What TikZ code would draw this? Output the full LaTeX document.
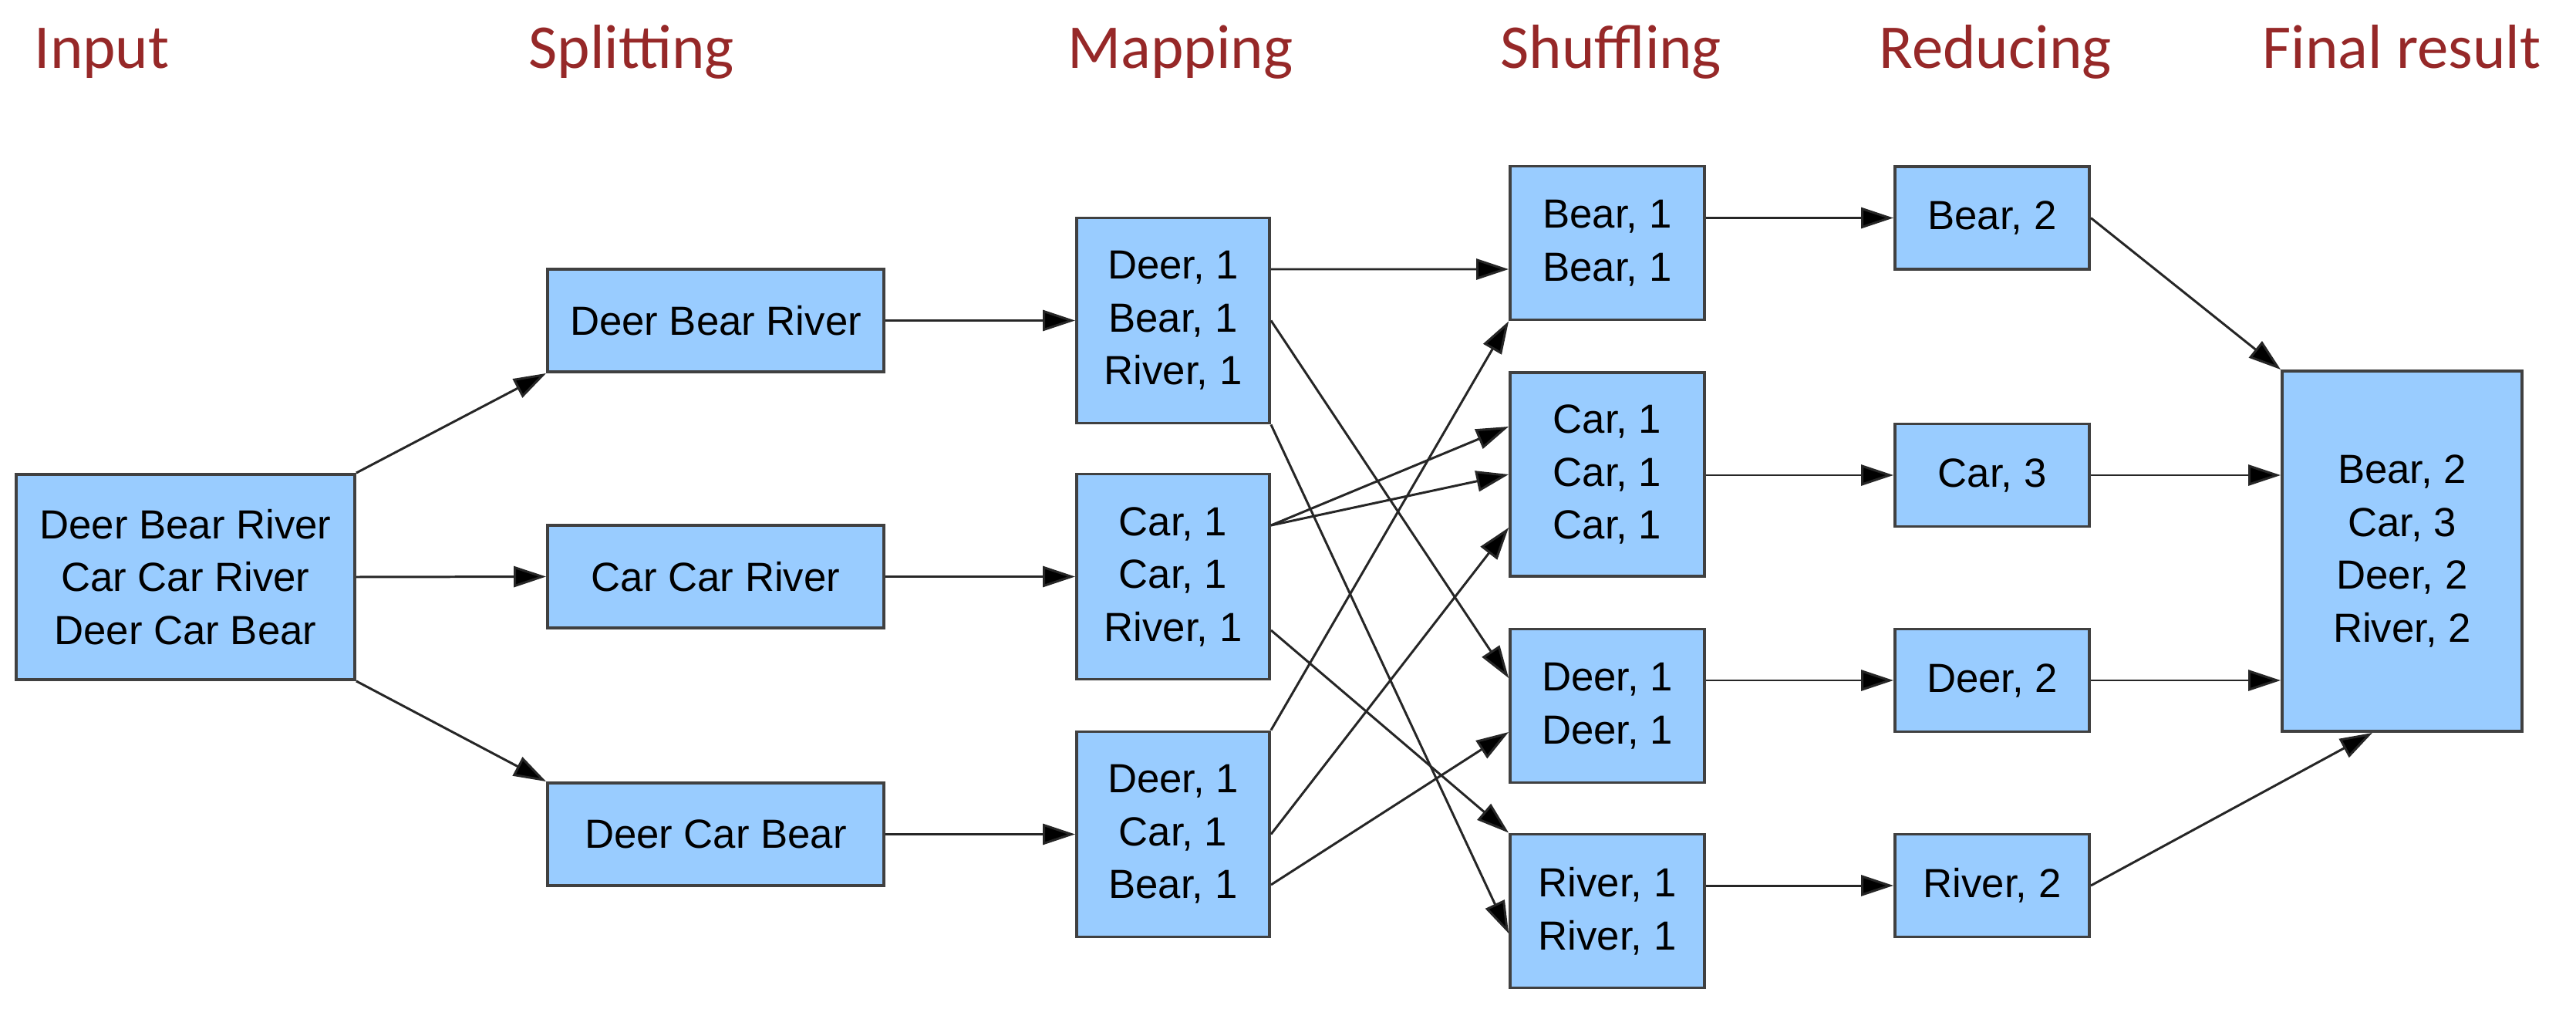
\documentclass[tikz,border=0pt]{standalone}
\usepackage{fontspec}
\setmainfont{Liberation Sans}
\newfontfamily\titlefont{Carlito}
\usetikzlibrary{arrows.meta,positioning}
\definecolor{boxblue}{RGB}{153,204,255}
\definecolor{titlered}{RGB}{150,40,40}

\begin{document}
\begin{tikzpicture}[
  font=\fontsize{15}{19.5}\selectfont, >={Triangle[length=4.2mm,width=2.7mm,fill=black]},
  box/.style={rectangle, draw=black!75, line width=1.1pt, fill=boxblue, align=center, inner sep=0pt},
  inbox/.style={box, minimum width=43.9mm, minimum height=26.6mm},
  splitbox/.style={box, minimum width=43.6mm, minimum height=13.3mm},
  mapbox/.style={box, minimum width=25mm, minimum height=26.6mm},
  shufbox2/.style={box, minimum width=25.2mm, minimum height=19.9mm},
  shufbox3/.style={box, minimum width=25.2mm, minimum height=26.4mm},
  redbox/.style={box, minimum width=25.2mm, minimum height=13.3mm},
  finalbox/.style={box, minimum width=31.1mm, minimum height=46.7mm},
  stagetitle/.style={anchor=base west, inner sep=0pt, text=titlered, font=\titlefont\fontsize{23}{28}\selectfont},
  flow/.style={->, draw=black!85, line width=0.85pt}
]
\useasboundingbox (0,0) rectangle (33.4,-13.08);

% stage titles
\node[stagetitle] (tin) at (0.44,-0.89) {Input};
\node[stagetitle] (tsp) at (6.85,-0.89) {Splitting};
\node[stagetitle] (tmp) at (13.84,-0.89) {Mapping};
\node[stagetitle] (tsh) at (19.45,-0.89) {Shuffling};
\node[stagetitle] (tre) at (24.36,-0.89) {Reducing};
\node[stagetitle] (tfi) at (29.33,-0.89) {Final result};

% boxes
\node[inbox] (in) at (2.405,-7.48) {Deer Bear River\\Car Car River\\Deer Car Bear};

\node[splitbox] (sp1) at (9.28,-4.155) {Deer Bear River};
\node[splitbox] (sp2) at (9.28,-7.475) {Car Car River};
\node[splitbox] (sp3) at (9.28,-10.815) {Deer Car Bear};

\node[mapbox] (mp1) at (15.21,-4.155) {Deer, 1\\Bear, 1\\River, 1};
\node[mapbox] (mp2) at (15.21,-7.475) {Car, 1\\Car, 1\\River, 1};
\node[mapbox] (mp3) at (15.21,-10.815) {Deer, 1\\Car, 1\\Bear, 1};

\node[shufbox2] (shB) at (20.84,-3.15) {Bear, 1\\Bear, 1};
\node[shufbox3] (shC) at (20.84,-6.15) {Car, 1\\Car, 1\\Car, 1};
\node[shufbox2] (shD) at (20.84,-9.15) {Deer, 1\\Deer, 1};
\node[shufbox2] (shR) at (20.84,-11.81) {River, 1\\River, 1};

\node[redbox] (reB) at (25.83,-2.825) {Bear, 2};
\node[redbox] (reC) at (25.83,-6.16) {Car, 3};
\node[redbox] (reD) at (25.83,-8.82) {Deer, 2};
\node[redbox] (reR) at (25.83,-11.48) {River, 2};

\node[finalbox] (fin) at (31.145,-7.145) {Bear, 2\\Car, 3\\Deer, 2\\River, 2};

% input -> splitting
\draw[flow] (in.north east) -- (sp1.south west);
\draw[flow] (in.east) -- (sp2.west);
\draw[flow] (in.south east) -- (sp3.north west);

% splitting -> mapping
\draw[flow] (sp1.east) -- (mp1.west);
\draw[flow] (sp2.east) -- (mp2.west);
\draw[flow] (sp3.east) -- (mp3.west);

% mapping -> shuffling
\draw[flow] ([yshift=6.65mm]mp1.east) -- ([yshift=-3.4mm]shB.west);
\draw[flow] (mp1.east) -- ([yshift=3.6mm]shD.west);
\draw[flow] (mp1.south east) -- ([yshift=-2.9mm]shR.west);
\draw[flow] ([yshift=6.65mm]mp2.east) -- ([yshift=6.2mm]shC.west);
\draw[flow] ([yshift=6.65mm]mp2.east) -- (shC.west);
\draw[flow] ([yshift=-6.95mm]mp2.east) -- (shR.north west);
\draw[flow] (mp3.north east) -- (shB.south west);
\draw[flow] (mp3.east) -- ([yshift=-6.9mm]shC.west);
\draw[flow] ([yshift=-6.55mm]mp3.east) -- ([yshift=-3.4mm]shD.west);

% shuffling -> reducing
\draw[flow] (shB.east |- reB.west) -- (reB.west);
\draw[flow] (shC.east |- reC.west) -- (reC.west);
\draw[flow] (shD.east |- reD.west) -- (reD.west);
\draw[flow] (shR.east |- reR.west) -- (reR.west);

% reducing -> final result
\draw[flow] (reB.east) -- (fin.north west);
\draw[flow] (reC.east) -- (fin.west |- reC.east);
\draw[flow] (reD.east) -- (fin.west |- reD.east);
\draw[flow] (reR.east) -- ([xshift=-3.85mm]fin.south);
\end{tikzpicture}
\end{document}
